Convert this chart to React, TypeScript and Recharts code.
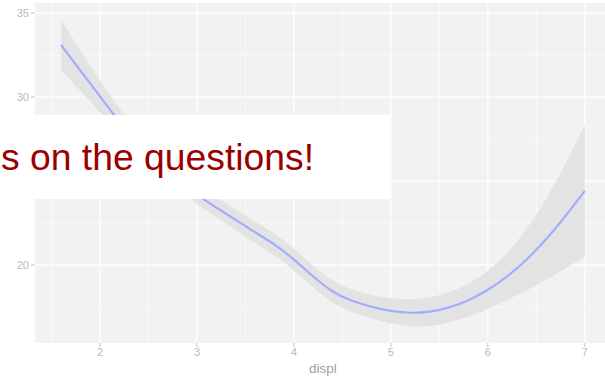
import React from "react";
import {
  Area,
  CartesianGrid,
  ComposedChart,
  Line,
  XAxis,
  YAxis,
} from "recharts";

// loess fit of hwy ~ displ with its confidence band
const displ = [
  1.6, 1.8, 2.0, 2.2, 2.4, 2.6, 2.8, 3.0, 3.2, 3.4, 3.6, 3.8, 4.0, 4.2,
  4.4, 4.6, 4.8, 5.0, 5.2, 5.4, 5.6, 5.8, 6.0, 6.2, 6.4, 6.6, 6.8, 7.0,
];
const fit = [
  33.1, 31.56, 30.05, 28.5, 27.2, 26.1, 25.1, 24.15, 23.42, 22.7, 21.94,
  21.25, 20.35, 19.3, 18.35, 17.85, 17.5, 17.25, 17.13, 17.2, 17.45, 17.88,
  18.5, 19.3, 20.3, 21.5, 22.9, 24.42,
];
const lower = [
  31.6, 30.36, 29.1, 27.72, 26.52, 25.5, 24.55, 23.6, 22.84, 22.08, 21.3,
  20.6, 19.7, 18.65, 17.7, 17.19, 16.8, 16.49, 16.33, 16.35, 16.55, 16.91,
  17.4, 17.92, 18.5, 19.1, 19.8, 20.5,
];
const upper = [
  34.6, 32.76, 31.0, 29.28, 27.88, 26.7, 25.65, 24.7, 24.0, 23.32, 22.58,
  21.9, 21.0, 19.95, 19.0, 18.51, 18.2, 18.01, 17.93, 18.05, 18.35, 18.85,
  19.6, 20.68, 22.1, 23.9, 26.0, 28.34,
];

const xTicks = [2, 3, 4, 5, 6, 7];
const xMinor = [1.5, 2.5, 3.5, 4.5, 5.5, 6.5];
const yGrid = [20, 25, 30, 35];
const yMinor = [17.5, 22.5, 27.5, 32.5];
// 25 sits under the caption box, so only these get labels
const yLabelled = [20, 30, 35];

const data = displ.map((x, i) => ({
  x,
  fit: fit[i],
  band: [lower[i], upper[i]],
}));

const axisText = { fontSize: 11, fill: "#bababa" };

export default function App() {
  return (
    <div
      style={{
        position: "fixed",
        left: 0,
        top: 0,
        width: 605,
        height: 377,
        overflow: "hidden",
        background: "#fff",
        fontFamily: "'Liberation Sans', Arial, sans-serif",
      }}
    >
      <ComposedChart
        width={611}
        height={377}
        data={data}
        margin={{ top: 3, right: 0, bottom: 0, left: 0 }}
      >
        <CartesianGrid
          fill="#f2f2f2"
          stroke="#ffffff"
          strokeWidth={0.6}
          verticalValues={xMinor}
          horizontalValues={yMinor}
        />
        <CartesianGrid
          stroke="#ffffff"
          strokeWidth={1.2}
          verticalValues={xTicks}
          horizontalValues={yGrid}
        />
        <XAxis
          type="number"
          dataKey="x"
          domain={[1.33, 7.27]}
          ticks={xTicks}
          allowDataOverflow
          axisLine={false}
          tickLine={{ stroke: "#c4c4c4" }}
          tickSize={4}
          tickMargin={1}
          height={34}
          tick={axisText}
          label={{
            value: "displ",
            position: "insideBottom",
            offset: 4,
            fontSize: 13.5,
            fill: "#a0a0a0",
          }}
        />
        <YAxis
          type="number"
          domain={[15.36, 35.6]}
          ticks={yLabelled}
          allowDataOverflow
          axisLine={false}
          tickLine={{ stroke: "#c4c4c4" }}
          tickSize={4}
          tickMargin={2}
          width={35}
          tick={axisText}
        />
        <Area
          dataKey="band"
          type="basis"
          fill="#e3e3e3"
          fillOpacity={1}
          stroke="none"
          isAnimationActive={false}
        />
        <Line
          dataKey="fit"
          type="basis"
          stroke="#a3adff"
          strokeWidth={2.2}
          dot={false}
          isAnimationActive={false}
        />
      </ComposedChart>
      <svg
        width={605}
        height={377}
        style={{ position: "absolute", left: 0, top: 0, pointerEvents: "none" }}
      >
        <rect x={0} y={115} width={390} height={84} fill="#ffffff" />
        <text
          x={1}
          y={170}
          fontSize={37.3}
          fill="#9a0000"
          fontFamily="'Liberation Sans', Arial, sans-serif"
        >
          s on the questions!
        </text>
      </svg>
    </div>
  );
}
